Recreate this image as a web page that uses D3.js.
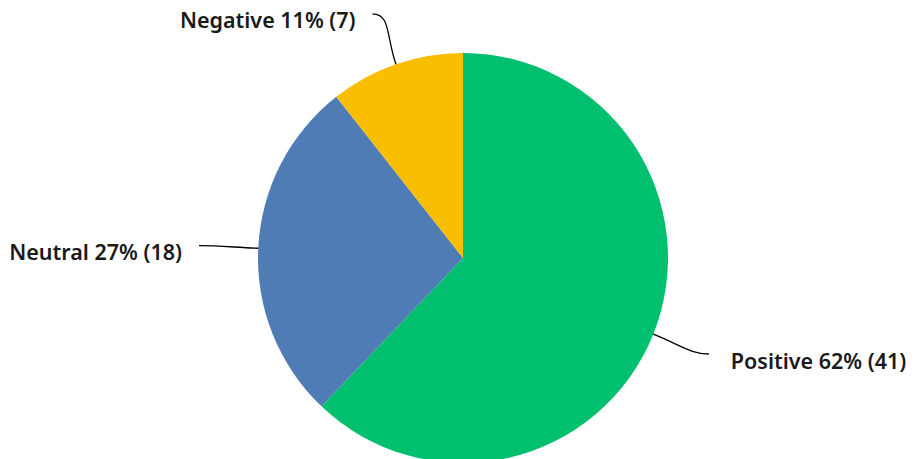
<!DOCTYPE html>
<html>
<head>
<meta charset="utf-8">
<script src="https://cdn.jsdelivr.net/npm/d3@7/dist/d3.min.js"></script>
<style>
  html, body { margin: 0; padding: 0; background: #fff; }
  svg { display: block; }
  .lbl { font-family: "Noto Sans", sans-serif; font-weight: 600; font-size: 21.5px; fill: #1a1a1a; }
</style>
</head>
<body>
<svg id="chart" width="918" height="459"></svg>
<script>
// Sentiment breakdown of responses
const categories = ["Positive", "Neutral", "Negative"];
const counts = [41, 18, 7];
const colors = ["#00BF6F", "#507CB6", "#F9BE00"];

const width = 918, height = 459;
const cx = 463, cy = 258, radius = 205;

const svg = d3.select("#chart");
const g = svg.append("g").attr("transform", `translate(${cx},${cy})`);

const total = d3.sum(counts);
const data = categories.map((c, i) => ({ name: c, value: counts[i], color: colors[i] }));

const pie = d3.pie().sort(null).value(d => d.value);
const arcs = pie(data);

const arc = d3.arc().innerRadius(0).outerRadius(radius);

g.selectAll("path.slice")
  .data(arcs)
  .enter().append("path")
  .attr("class", "slice")
  .attr("d", arc)
  .attr("fill", d => d.data.color);

// polar helper: angle measured clockwise from 12 o'clock
const polar = (a, r) => [r * Math.sin(a), -r * Math.cos(a)];

arcs.forEach(d => {
  const mid = (d.startAngle + d.endAngle) / 2;
  const side = Math.sin(mid) >= 0 ? 1 : -1;
  const p0 = polar(mid, radius);
  // leader end: pushed out radially, then nudged sideways
  const p3 = [p0[0] * 1.26 + side * 6, p0[1] * 1.26];
  const c1 = polar(mid, radius + 30);
  const c2 = [p3[0] - side * 18, p3[1]];
  const path = d3.path();
  path.moveTo(p0[0], p0[1]);
  path.bezierCurveTo(c1[0], c1[1], c2[0], c2[1], p3[0], p3[1]);
  g.append("path")
    .attr("d", path.toString())
    .attr("fill", "none")
    .attr("stroke", "#000")
    .attr("stroke-width", 1.3);

  const pct = Math.round(d.data.value / total * 100);
  g.append("text")
    .attr("class", "lbl")
    .attr("x", p3[0] + side * (side > 0 ? 22 : 17))
    .attr("y", p3[1] + 7)
    .attr("dy", "0.35em")
    .attr("text-anchor", side > 0 ? "start" : "end")
    .text(`${d.data.name} ${pct}% (${d.data.value})`);
});
</script>
</body>
</html>
